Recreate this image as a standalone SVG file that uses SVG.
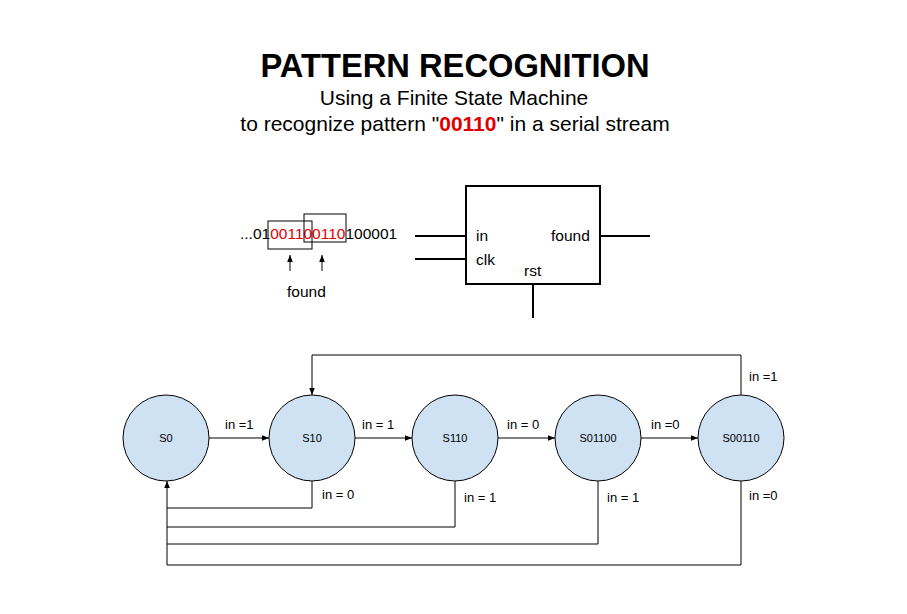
<svg xmlns="http://www.w3.org/2000/svg" width="907" height="614" viewBox="0 0 907 614">
<style>
text{font-family:"Liberation Sans",Arial,sans-serif;fill:#000}
.st{fill:#cfe2f3;stroke:#000;stroke-width:1}
.sl{font-size:11px;text-anchor:middle}
.lb{font-size:13px}
.w{fill:none;stroke:#000;stroke-width:1}
.thick{fill:none;stroke:#000;stroke-width:2}
.red{fill:#e00000}
.pin{font-size:15.5px}
</style>
<defs>
<marker id="ah" viewBox="0 0 10 10" refX="10" refY="5" markerWidth="7" markerHeight="7" markerUnits="userSpaceOnUse" orient="auto">
<path d="M0,1 L10,5 L0,9 z" fill="#000"/>
</marker>
</defs>
<rect width="907" height="614" fill="#fff"/>
<g id="title">
<text x="455" y="77" font-size="32.7" font-weight="bold" text-anchor="middle">PATTERN RECOGNITION</text>
<text x="454" y="105" font-size="21" text-anchor="middle">Using a Finite State Machine</text>
<text x="455" y="131" font-size="21" text-anchor="middle">to recognize pattern "<tspan class="red" font-weight="bold">00110</tspan>" in a serial stream</text>
</g>
<g id="stream">
<text x="240" y="239" class="pin">...01<tspan class="red">001100110</tspan>100001</text>
<rect x="268" y="221" width="44" height="28" class="w"/>
<rect x="304" y="214" width="42" height="28" class="w"/>
<line x1="290" y1="271" x2="290" y2="255" class="w" marker-end="url(#ah)"/>
<line x1="322" y1="271" x2="322" y2="255" class="w" marker-end="url(#ah)"/>
<text x="287" y="297" class="pin">found</text>
</g>
<g id="block">
<rect x="466" y="186" width="134" height="98" class="thick"/>
<line x1="415" y1="236" x2="466" y2="236" class="thick"/>
<line x1="415" y1="259" x2="466" y2="259" class="thick"/>
<line x1="600" y1="236" x2="650" y2="236" class="thick"/>
<line x1="533" y1="284" x2="533" y2="318" class="thick"/>
<text x="476" y="241" class="pin">in</text>
<text x="476" y="265" class="pin">clk</text>
<text x="551" y="241" class="pin">found</text>
<text x="524" y="276" class="pin">rst</text>
</g>
<g id="connectors">
<line x1="209" y1="438" x2="269" y2="438" class="w" marker-end="url(#ah)"/>
<line x1="355" y1="438" x2="412" y2="438" class="w" marker-end="url(#ah)"/>
<line x1="498" y1="438" x2="555" y2="438" class="w" marker-end="url(#ah)"/>
<line x1="641" y1="438" x2="698" y2="438" class="w" marker-end="url(#ah)"/>
<polyline points="741,395 741,355 312,355 312,395" class="w" marker-end="url(#ah)"/>
<polyline points="312,481 312,508 167,508" class="w"/>
<polyline points="455,481 455,527 167,527" class="w"/>
<polyline points="598,481 598,544 167,544" class="w"/>
<polyline points="741,481 741,565 167,565 167,481" class="w" marker-end="url(#ah)"/>
<text x="225" y="429" class="lb">in =1</text>
<text x="362" y="429" class="lb">in = 1</text>
<text x="507" y="429" class="lb">in = 0</text>
<text x="651" y="429" class="lb">in =0</text>
<text x="749" y="381" class="lb">in =1</text>
<text x="322" y="499" class="lb">in = 0</text>
<text x="464" y="502" class="lb">in = 1</text>
<text x="607" y="502" class="lb">in = 1</text>
<text x="749" y="500" class="lb">in =0</text>
</g>
<g id="S0"><circle cx="166" cy="438" r="43" class="st"/><text x="166" y="442" class="sl">S0</text></g>
<g id="S10"><circle cx="312" cy="438" r="43" class="st"/><text x="312" y="442" class="sl">S10</text></g>
<g id="S110"><circle cx="455" cy="438" r="43" class="st"/><text x="455" y="442" class="sl">S110</text></g>
<g id="S01100"><circle cx="598" cy="438" r="43" class="st"/><text x="598" y="442" class="sl">S01100</text></g>
<g id="S00110"><circle cx="741" cy="438" r="43" class="st"/><text x="741" y="442" class="sl">S00110</text></g>
</svg>
